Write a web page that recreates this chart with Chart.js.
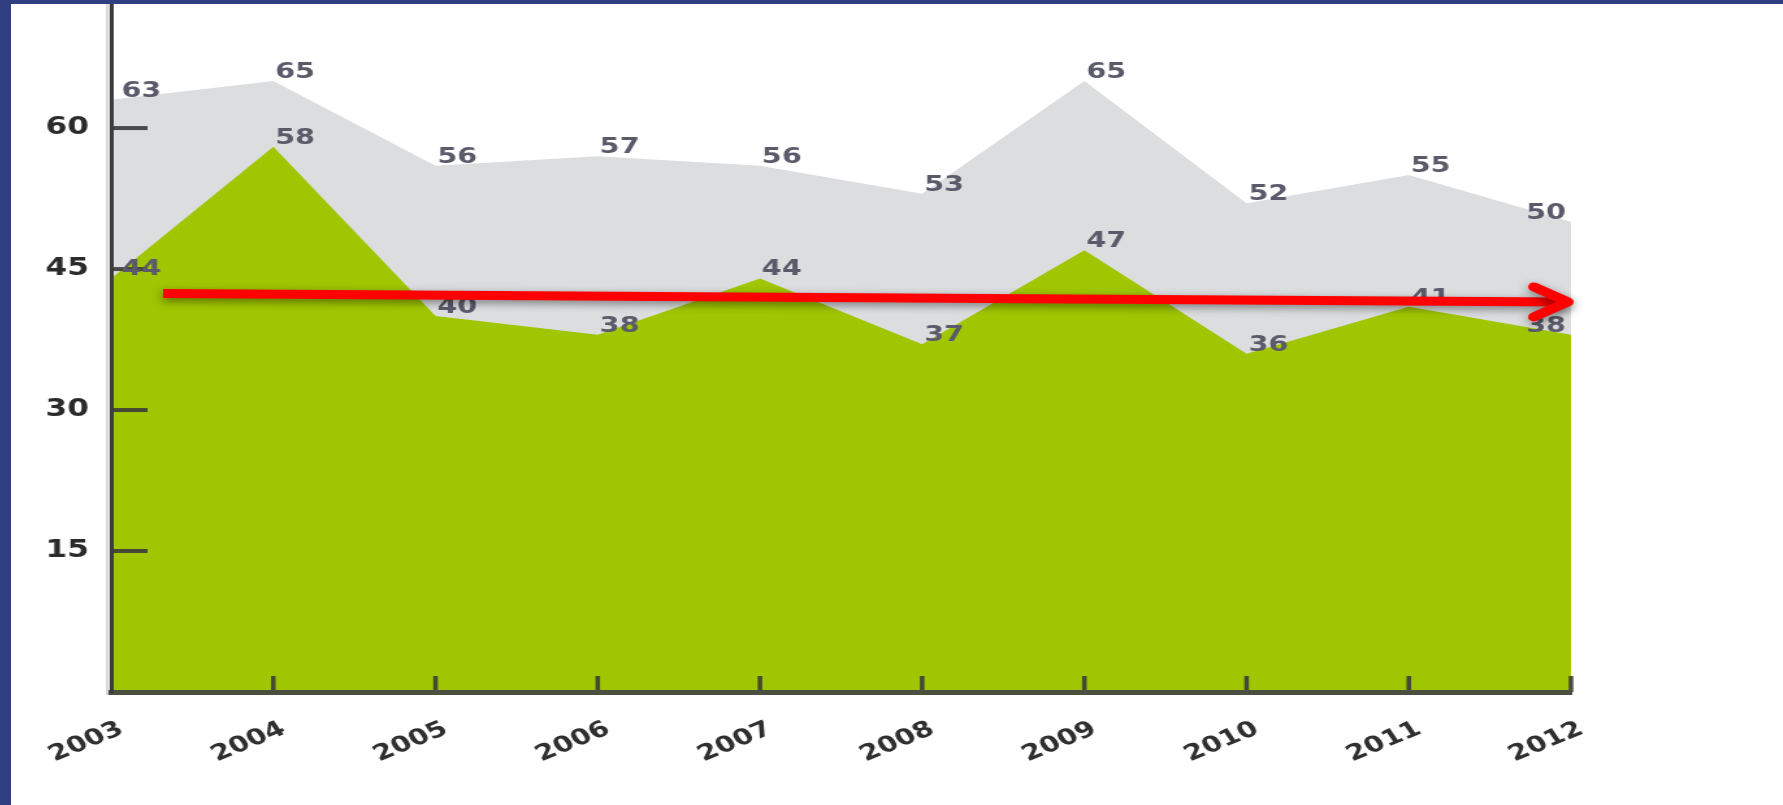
<!DOCTYPE html>
<html>
<head>
<meta charset="utf-8">
<script src="https://cdn.jsdelivr.net/npm/chart.js@4.4.1/dist/chart.umd.min.js"></script>
<style>
  html, body { margin: 0; padding: 0; background: #2f3f7f; width: 1783px; height: 805px; overflow: hidden; }
  #frame { position: absolute; left: 11px; top: 4px; width: 1772px; height: 801px; background: #fff; overflow: hidden; }
  /* el original está estirado en horizontal */
  #stretch { position: absolute; left: 0; top: 0; transform: scaleX(1.3); transform-origin: 0 0; }
</style>
</head>
<body>
<div id="frame"><div id="stretch"><canvas id="areaChart" width="1363" height="801"></canvas></div></div>
<script>
// Datos del gráfico
const years = ['2003', '2004', '2005', '2006', '2007', '2008', '2009', '2010', '2011', '2012'];
const totalValues = [63, 65, 56, 57, 56, 53, 65, 52, 55, 50];
const mainValues = [44, 58, 40, 38, 44, 37, 47, 36, 41, 38];
const yTickValues = [15, 30, 45, 60];
// Flecha de tendencia: [índice de categoría, valor]
const trendFrom = [0.32, 42.4];
const trendTo = [8.98, 41.5];

const FONT = '"DejaVu Sans", Verdana, sans-serif';

// Marcas cortas hacia dentro del área en ambos ejes
const axisMarks = {
    id: 'axisMarks',
    afterDatasetsDraw(chart) {
        const { ctx, chartArea: a, scales: { x, y } } = chart;
        ctx.save();
        ctx.fillStyle = '#d8d8d8';
        ctx.fillRect(a.left - 4, a.top, 2.5, a.bottom - a.top + 3);

        ctx.strokeStyle = 'rgba(58,58,58,0.9)';
        ctx.lineWidth = 4;
        y.ticks.forEach(t => {
            const py = y.getPixelForValue(t.value);
            ctx.beginPath();
            ctx.moveTo(a.left, py);
            ctx.lineTo(a.left + 28, py);
            ctx.stroke();
        });

        ctx.lineWidth = 3.5;
        x.ticks.forEach((t, i) => {
            if (i === 0) return;
            const px = x.getPixelForTick(i);
            ctx.beginPath();
            ctx.moveTo(px, a.bottom);
            ctx.lineTo(px, a.bottom - 16);
            ctx.stroke();
        });
        ctx.restore();
    }
};

// Etiquetas de valor sobre cada punto
const valueLabels = {
    id: 'valueLabels',
    afterDatasetsDraw(chart) {
        const { ctx } = chart;
        ctx.save();
        ctx.font = 'bold 22px ' + FONT;
        ctx.fillStyle = '#5a5a6a';
        ctx.textBaseline = 'alphabetic';
        chart.data.datasets.forEach((ds, di) => {
            const meta = chart.getDatasetMeta(di);
            meta.data.forEach((pt, i) => {
                const last = i === meta.data.length - 1;
                ctx.textAlign = last ? 'right' : 'left';
                const dx = i === 0 ? 8 : (last ? -4 : 1.5);
                ctx.fillText(String(ds.data[i]), pt.x + dx, pt.y - 3);
            });
        });
        ctx.restore();
    }
};

// Flecha roja de tendencia
const trendArrow = {
    id: 'trendArrow',
    afterDraw(chart) {
        const { ctx, scales: { x, y } } = chart;
        const x1 = x.getPixelForValue(trendFrom[0]), y1 = y.getPixelForValue(trendFrom[1]);
        const x2 = x.getPixelForValue(trendTo[0]), y2 = y.getPixelForValue(trendTo[1]);
        ctx.save();
        ctx.shadowColor = 'rgba(0,0,0,0.45)';
        ctx.shadowBlur = 8;
        ctx.shadowOffsetY = 3;
        ctx.strokeStyle = '#ff0000';
        ctx.lineWidth = 9;
        ctx.lineCap = 'butt';
        ctx.beginPath();
        ctx.moveTo(x1, y1);
        ctx.lineTo(x2 - 2, y2);
        ctx.stroke();

        ctx.lineCap = 'round';
        ctx.lineJoin = 'round';
        ctx.beginPath();
        ctx.moveTo(x2 - 26, y2 - 15);
        ctx.lineTo(x2, y2);
        ctx.lineTo(x2 - 26, y2 + 15);
        ctx.stroke();
        ctx.restore();
    }
};

function noPadding(s) {
    s.paddingTop = 0;
    s.paddingBottom = 0;
    s.paddingLeft = 0;
    s.paddingRight = 0;
}

new Chart(document.getElementById('areaChart'), {
    type: 'line',
    data: {
        labels: years,
        datasets: [
            { label: 'Total', data: totalValues, backgroundColor: '#dcdddf', fill: 'origin', order: 2 },
            { label: 'Principal', data: mainValues, backgroundColor: '#9fc600', fill: 'origin', order: 1 }
        ]
    },
    options: {
        responsive: false,
        animation: false,
        devicePixelRatio: 1,
        layout: { padding: 0 },
        elements: { line: { borderWidth: 0, tension: 0 }, point: { radius: 0 } },
        plugins: { legend: { display: false }, tooltip: { enabled: false } },
        scales: {
            x: {
                offset: false,
                grid: { display: false, drawTicks: false },
                border: { display: true, color: '#4b4f40', width: 5, z: 1 },
                ticks: {
                    autoSkip: false, minRotation: 28, maxRotation: 28,
                    padding: 24, labelOffset: 8, color: '#2f2f2f',
                    font: { family: FONT, size: 22, weight: 'bold' }
                },
                afterFit(s) { s.height = 113; noPadding(s); }
            },
            y: {
                min: 0,
                max: 73.2,
                grid: { display: false, drawTicks: false },
                border: { display: true, color: '#3b3b3b', width: 3, z: 1 },
                afterBuildTicks(s) { s.ticks = yTickValues.map(v => ({ value: v })); },
                ticks: { padding: 17, color: '#2b2b2b', font: { family: FONT, size: 24, weight: 'bold' } },
                afterFit(s) { s.width = 77; noPadding(s); }
            }
        }
    },
    plugins: [axisMarks, valueLabels, trendArrow,
        {
            id: 'fixedArea',
            beforeLayout(chart) { chart.options.layout.padding = { top: 0, left: 0, bottom: 0, right: 163 }; }
        }]
});
</script>
</body>
</html>
